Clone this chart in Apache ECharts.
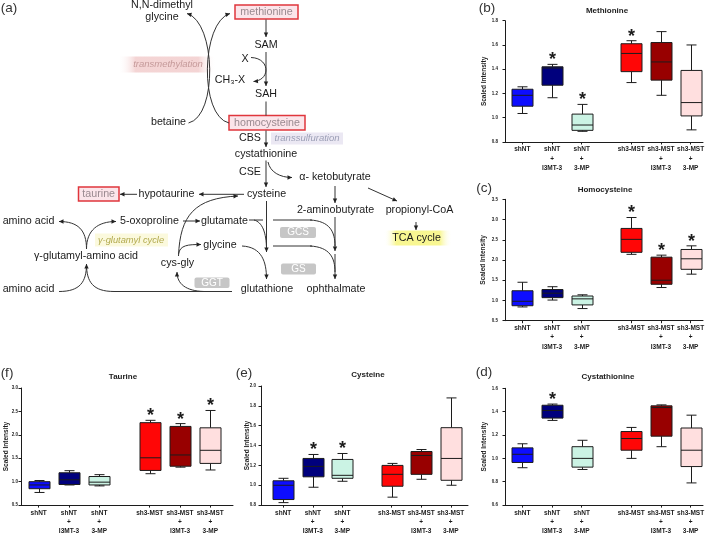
<!DOCTYPE html>
<html>
<head>
<meta charset="utf-8">
<script src="https://cdn.jsdelivr.net/npm/echarts@6/dist/echarts.min.js"></script>
<style>
html,body{margin:0;padding:0;background:#fff;}
#chart{width:709px;height:536px;}
</style>
</head>
<body>
<div id="chart"></div>
<script>
// ---------------- DATA ----------------
const groupLabels = ['shNT', 'shNT\n+\nI3MT-3', 'shNT\n+\n3-MP', 'sh3-MST', 'sh3-MST\n+\nI3MT-3', 'sh3-MST\n+\n3-MP'];
// each box: [min, Q1, median, Q3, max]
const methionine = [
  [1.035, 1.095, 1.185, 1.235, 1.255],
  [1.165, 1.268, 1.41, 1.42, 1.44],
  [0.888, 0.896, 0.94, 1.03, 1.11],
  [1.29, 1.38, 1.53, 1.61, 1.635],
  [1.185, 1.31, 1.46, 1.62, 1.71],
  [0.90, 1.015, 1.125, 1.39, 1.60]
];
const methionineStars = [0, 1, 1, 1, 0, 0];
const homocysteine = [
  [0.84, 0.87, 0.98, 1.24, 1.45],
  [1.01, 1.07, 1.18, 1.27, 1.34],
  [0.80, 0.89, 1.04, 1.11, 1.14],
  [2.14, 2.19, 2.51, 2.78, 3.05],
  [1.32, 1.40, 1.50, 2.07, 2.12],
  [1.65, 1.77, 2.03, 2.26, 2.35]
];
const homocysteineStars = [0, 0, 0, 1, 1, 1];
const cystathionine = [
  [0.92, 0.965, 1.035, 1.09, 1.125],
  [1.325, 1.345, 1.41, 1.455, 1.465],
  [0.905, 0.925, 1.0, 1.10, 1.155],
  [1.0, 1.07, 1.17, 1.23, 1.265],
  [1.10, 1.19, 1.435, 1.45, 1.458],
  [0.79, 0.93, 1.07, 1.26, 1.37]
];
const cystathionineStars = [0, 1, 0, 0, 0, 0];
const cysteine = [
  [0.825, 0.856, 1.0, 1.045, 1.07],
  [0.98, 1.085, 1.19, 1.27, 1.31],
  [1.04, 1.07, 1.10, 1.26, 1.32],
  [0.88, 0.99, 1.11, 1.20, 1.22],
  [1.06, 1.11, 1.30, 1.34, 1.36],
  [1.0, 1.05, 1.27, 1.58, 1.88]
];
const cysteineStars = [0, 1, 1, 0, 0, 0];
const taurine = [
  [0.77, 0.85, 0.93, 1.0, 1.025],
  [0.93, 0.94, 1.04, 1.19, 1.235],
  [0.91, 0.93, 0.99, 1.11, 1.15],
  [1.17, 1.24, 1.51, 2.26, 2.31],
  [1.31, 1.33, 1.57, 2.18, 2.24],
  [1.25, 1.39, 1.67, 2.15, 2.52]
];
const taurineStars = [0, 0, 0, 1, 1, 1];
// y-axis ticks: [min, max, step]
const methionineTicks = [0.8, 1.8, 0.2];
const homocysteineTicks = [0.5, 3.5, 0.5];
const cystathionineTicks = [0.6, 1.6, 0.2];
const cysteineTicks = [0.8, 2.0, 0.2];
const taurineTicks = [0.5, 3.0, 0.5];

// ---------------- STYLE / LAYOUT ----------------
const boxColors = ['#0d0dff', '#00007d', '#cbf3e4', '#ff0606', '#980000', '#ffdfdf'];
const FONT = '"Liberation Sans", Arial, Helvetica, sans-serif';
const INK = '#1c1c1c';

const panels = [
  {letter:'(b)', title:'Methionine', data:methionine, stars:methionineStars, ticks:methionineTicks,
   grid:{left:505, top:20.7, width:198, height:121.3}, slots:40, lead:3, nameGap:17, labelMargin:7,
   titlePos:[607, 11], letterPos:[487, 8]},
  {letter:'(c)', title:'Homocysteine', data:homocysteine, stars:homocysteineStars, ticks:homocysteineTicks,
   grid:{left:505, top:199.3, width:198, height:121.4}, slots:40, lead:3, nameGap:18, labelMargin:7,
   titlePos:[605, 190], letterPos:[484, 188]},
  {letter:'(d)', title:'Cystathionine', data:cystathionine, stars:cystathionineStars, ticks:cystathionineTicks,
   grid:{left:505, top:388.3, width:198, height:121}, slots:40, lead:3, nameGap:17, labelMargin:7,
   titlePos:[608, 377], letterPos:[484, 372]},
  {letter:'(e)', title:'Cysteine', data:cysteine, stars:cysteineStars, ticks:cysteineTicks,
   grid:{left:261, top:386, width:207, height:123}, slots:42, lead:4, nameGap:10.5, labelMargin:5,
   titlePos:[368, 375], letterPos:[244, 373]},
  {letter:'(f)', title:'Taurine', data:taurine, stars:taurineStars, ticks:taurineTicks,
   grid:{left:21, top:388, width:212, height:120.5}, slots:42, lead:3, nameGap:11, labelMargin:3,
   titlePos:[123, 377], letterPos:[7, 373]}
];
const slotStep = [0, 6, 12, 22, 28, 34];

function slotPositions(p) { return slotStep.map(s => s + p.lead); }

function renderBox(params, api) {
  const x = api.value(0);
  const v = [1, 2, 3, 4, 5].map(i => api.value(i));
  const pts = v.map(val => api.coord([x, val]));
  const cx = Math.round(pts[0][0]) + 0.5;
  const bw = 21, cw = 10;
  const yMin = pts[0][1], yQ1 = pts[1][1], yMed = pts[2][1], yQ3 = pts[3][1], yMax = pts[4][1];
  const ls = {stroke: INK, lineWidth: 1};
  const color = boxColors[params.dataIndex];
  const children = [
    {type:'line', shape:{x1:cx, y1:yMax, x2:cx, y2:yQ3}, style:ls},
    {type:'line', shape:{x1:cx, y1:yQ1, x2:cx, y2:yMin}, style:ls},
    {type:'line', shape:{x1:cx - cw/2, y1:yMax, x2:cx + cw/2, y2:yMax}, style:ls},
    {type:'line', shape:{x1:cx - cw/2, y1:yMin, x2:cx + cw/2, y2:yMin}, style:ls},
    {type:'rect', shape:{x:cx - bw/2, y:yQ3, width:bw, height:yQ1 - yQ3}, style:{fill:color, stroke:INK, lineWidth:1}},
    {type:'line', shape:{x1:cx - bw/2, y1:yMed, x2:cx + bw/2, y2:yMed}, style:ls}
  ];
  if (api.value(6)) {
    children.push({type:'text', x:cx, y:yMax - 4,
      style:{text:'*', font:'bold 18px ' + FONT, fill:INK, align:'center', verticalAlign:'middle',
             textAlign:'center', textVerticalAlign:'middle'}});
  }
  return {type:'group', children};
}

const grids = [], xAxes = [], yAxes = [], series = [];
panels.forEach((p, i) => {
  grids.push(Object.assign({containLabel:false}, p.grid));
  const pos = slotPositions(p);
  const slotLabels = new Array(p.slots).fill('');
  pos.forEach((s, k) => { slotLabels[s] = groupLabels[k]; });
  const showAt = (idx) => pos.indexOf(idx) >= 0;
  xAxes.push({
    type:'category', gridIndex:i, data:slotLabels.map((_, k) => 's' + k), boundaryGap:true,
    axisLine:{show:true, lineStyle:{color:INK, width:1}},
    axisTick:{show:true, alignWithLabel:true, length:2.5, interval:showAt, lineStyle:{color:INK}},
    axisLabel:{show:true, interval:showAt, formatter:(val, idx) => slotLabels[idx], fontSize:6.5,
      fontWeight:'bold', lineHeight:9.3, margin:3, color:INK, fontFamily:FONT, align:'center'},
    splitLine:{show:false}
  });
  yAxes.push({
    type:'value', gridIndex:i, min:p.ticks[0], max:p.ticks[1], interval:p.ticks[2],
    name:'Scaled Intensity', nameLocation:'middle', nameGap:p.nameGap, nameMoveOverlap:false,
    nameTextStyle:{fontSize:6.5, fontWeight:'bold', color:INK, fontFamily:FONT},
    axisLine:{show:true, lineStyle:{color:INK, width:1}},
    axisTick:{show:true, length:2.5, lineStyle:{color:INK}},
    axisLabel:{fontSize:4.5, fontWeight:'bold', color:INK, fontFamily:FONT, margin:p.labelMargin,
      formatter:(v) => v.toFixed(1)},
    splitLine:{show:false}
  });
  series.push({
    type:'custom', xAxisIndex:i, yAxisIndex:i, renderItem:renderBox, clip:false,
    encode:{x:0, y:[1, 2, 3, 4, 5]},
    data:p.data.map((b, k) => [pos[k]].concat(b).concat([p.stars[k]]))
  });
});

// ---------------- PATHWAY DIAGRAM (panel a) ----------------
const DFS = 10.7;
const els = [];
function txt(s, x, y, o) {
  o = o || {};
  els.push({type:'text', x, y, z:10, silent:true,
    style:{text:s, fill:o.fill || '#1a1a1a',
      font:(o.italic ? 'italic ' : '') + (o.size || DFS) + 'px ' + FONT,
      align:'center', verticalAlign:'middle', textAlign:'center', textVerticalAlign:'middle'}});
}
function head(x, y, fx, fy) {
  const a = Math.atan2(y - fy, x - fx), L = 4.5, W = 2.2;
  const bx = x - L * Math.cos(a), by = y - L * Math.sin(a);
  const px = -Math.sin(a) * W, py = Math.cos(a) * W;
  els.push({type:'polygon', z:6, silent:true, shape:{points:[[x, y], [bx + px, by + py], [bx - px, by - py]]},
    style:{fill:'#222', stroke:null}});
}
function ln(x1, y1, x2, y2, arrow) {
  els.push({type:'line', z:5, silent:true, shape:{x1, y1, x2, y2}, style:{stroke:'#333', lineWidth:1}});
  if (arrow) head(x2, y2, x1, y1);
}
function cv(x1, y1, c1x, c1y, c2x, c2y, x2, y2, arrow) {
  els.push({type:'bezierCurve', z:5, silent:true,
    shape:{x1, y1, cpx1:c1x, cpy1:c1y, cpx2:c2x, cpy2:c2y, x2, y2},
    style:{stroke:'#333', lineWidth:1, fill:null}});
  if (arrow) head(x2, y2, c2x, c2y);
}
function rect(x, y, w, h, style, r) {
  els.push({type:'rect', z:2, silent:true, shape:{x, y, width:w, height:h, r:r || 0}, style});
}
const fadeH = (c) => ({type:'linear', x:0, y:0, x2:1, y2:0, colorStops:[
  {offset:0, color:'rgba(255,255,255,0)'}, {offset:0.18, color:c}, {offset:0.82, color:c}, {offset:1, color:'rgba(255,255,255,0)'}]});

// highlights
rect(118, 56.5, 98, 16, {fill:fadeH('rgba(242,205,205,0.85)')});
rect(271, 132.5, 72, 12, {fill:'#ebe8f3'});
rect(95, 233.5, 73, 13, {fill:'#fbf9dd'});
rect(384, 230.5, 68, 15, {fill:fadeH('rgba(248,246,140,0.95)')});
// red boxes
const redBox = {fill:'#fbe5ea', stroke:'#e0363c', lineWidth:1.5};
rect(235, 5, 63, 14, redBox);
rect(229, 115.5, 76, 14.5, redBox);
rect(78.5, 187, 40.5, 14, redBox);
// enzyme boxes
const grey = {fill:'#c6c6c6'};
rect(280, 227, 36, 11, grey, 2);
rect(281, 263.5, 35, 11, grey, 2);
rect(194.5, 277.5, 35, 10.5, grey, 2);

// arrows / lines
ln(266, 19.5, 266, 37, true);
ln(266, 52, 266, 86, true);
cv(251, 57.5, 270, 58, 271, 80, 253.5, 81.5, true);
ln(266, 101.5, 266, 115.5, false);
ln(266, 130.5, 266, 147, true);
ln(266, 160.5, 266, 187, true);
cv(268, 162, 270, 172, 280, 177.5, 292, 177.5, true);
ln(335, 186, 335, 203, true);
ln(368, 188, 397, 201, true);
ln(416, 222, 416, 230, true);
ln(244, 194.3, 199, 194.3, true);
ln(137, 194.3, 120, 194.3, true);
ln(266.5, 201, 266.5, 252, true);
ln(249, 220, 263, 220, false);
cv(254, 220, 262, 222, 266.5, 232, 266.5, 250, false);
cv(242, 246, 262, 247, 266.5, 262, 266.5, 279, true);
ln(273, 220, 312, 220, false);
cv(310, 220, 330, 221, 335, 232, 335, 246, false);
ln(335, 217, 335, 251, true);
ln(273, 246, 312, 246, false);
cv(310, 246, 330, 247, 335, 258, 335, 272, false);
ln(335, 254, 335, 279, true);
ln(183, 221, 200, 221, true);
cv(178.5, 256, 180, 215, 195, 198, 238, 196, true);
cv(178.5, 254, 180, 245, 188, 244.5, 201, 244.5, true);
cv(86.5, 249, 86.5, 230, 78, 221.5, 59, 221.5, true);
cv(86.5, 249, 86.5, 230, 98, 221.5, 116, 221.5, true);
cv(59, 291.5, 80, 291.5, 86.5, 282, 86.5, 264, true);
cv(114, 291.5, 93, 291.5, 86.5, 282, 86.5, 264, false);
ln(114, 291.5, 232, 291.5, false);
cv(204, 291.5, 186, 291, 177, 284, 177, 272, true);
cv(188.5, 123, 218, 116, 216, 22, 187, 13.5, true);
cv(229, 123, 199, 116, 201, 22, 230, 13.5, true);

// diagram texts
const muted = '#9a8a90';
txt('(a)', 9, 8, {size:13.5, fill:'#333'});
txt('N,N-dimethyl', 162, 5.5);
txt('glycine', 162, 17.5);
txt('methionine', 266.5, 12, {fill:muted});
txt('SAM', 266, 45.5);
txt('X', 245, 59.5);
txt('CH\u2083-X', 230, 80);
txt('SAH', 266, 94.5);
txt('betaine', 168.5, 122.5);
txt('homocysteine', 267, 122.7, {fill:muted});
txt('CBS', 250, 138.5);
txt('transsulfuration', 307, 138.5, {italic:true, size:9.5, fill:'#9c9fb6'});
txt('transmethylation', 168, 64.5, {italic:true, size:9.5, fill:'#c59a9a'});
txt('cystathionine', 266, 154);
txt('CSE', 250, 172.5);
txt('\u03b1- ketobutyrate', 335, 177.5);
txt('taurine', 98.7, 194, {fill:muted});
txt('hypotaurine', 166.5, 194.3);
txt('cysteine', 266.5, 194);
txt('amino acid', 28.5, 221);
txt('5-oxoproline', 149.5, 221);
txt('glutamate', 224.5, 221);
txt('2-aminobutyrate', 335.5, 210);
txt('propionyl-CoA', 419.5, 210);
txt('TCA cycle', 416.5, 238);
txt('\u03b3-glutamyl cycle', 131, 240, {italic:true, size:9.3, fill:'#b3ab50'});
txt('glycine', 220, 245);
txt('\u03b3-glutamyl-amino acid', 86, 256);
txt('cys-gly', 177.5, 263.5);
txt('amino acid', 28.5, 289);
txt('glutathione', 267, 289);
txt('ophthalmate', 336, 289);
txt('GCS', 298, 232.7, {fill:'#fff', size:10});
txt('GS', 298.5, 269.2, {fill:'#fff', size:10});
txt('GGT', 212, 282.9, {fill:'#fff', size:10});

// panel titles & letters
panels.forEach(p => {
  els.push({type:'text', x:p.titlePos[0], y:p.titlePos[1], z:10, silent:true,
    style:{text:p.title, font:'bold 8px ' + FONT, fill:INK, align:'center', verticalAlign:'middle',
           textAlign:'center', textVerticalAlign:'middle'}});
  els.push({type:'text', x:p.letterPos[0], y:p.letterPos[1], z:10, silent:true,
    style:{text:p.letter, font:'13.5px ' + FONT, fill:'#333', align:'center', verticalAlign:'middle',
           textAlign:'center', textVerticalAlign:'middle'}});
});

const chart = echarts.init(document.getElementById('chart'), null, {renderer:'canvas'});
chart.setOption({
  animation:false,
  backgroundColor:'#fff',
  grid:grids, xAxis:xAxes, yAxis:yAxes, series,
  graphic:{elements:els}
});
</script>
</body>
</html>
